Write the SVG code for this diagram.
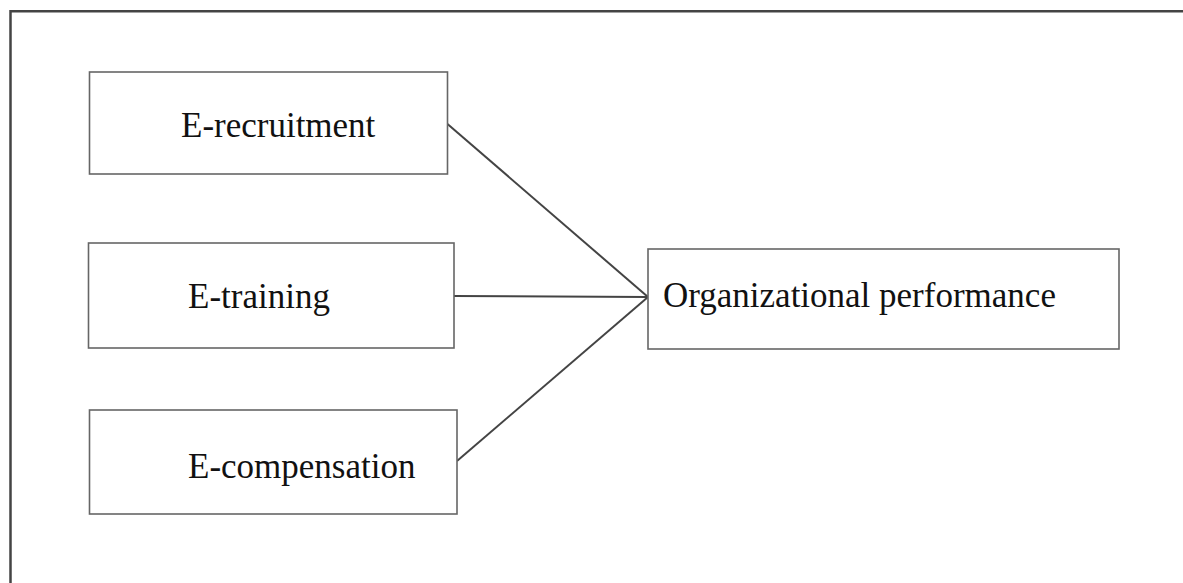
<svg xmlns="http://www.w3.org/2000/svg" width="1183" height="583" viewBox="0 0 1183 583">
  <style>
    .box { fill: #ffffff; stroke: #666666; stroke-width: 1.6; }
    .lbl { font-family: "Liberation Serif", "Times New Roman", serif; font-size: 35px; fill: #111111; }
    .conn { stroke: #444444; stroke-width: 2; fill: none; }
    .frame { stroke: #444444; stroke-width: 2.5; fill: none; }
  </style>
  <rect x="0" y="0" width="1183" height="583" fill="#ffffff"/>
  <path class="frame" d="M10.5,583 L10.5,11.2 L1183,11.2"/>
  <g id="connectors">
    <line class="conn" x1="447.5" y1="124" x2="648" y2="297"/>
    <line class="conn" x1="454" y1="296" x2="648" y2="297"/>
    <line class="conn" x1="457" y1="461" x2="648" y2="297"/>
  </g>
  <g id="node-erecruitment">
    <rect class="box" x="89.5" y="72" width="358" height="102"/>
    <text class="lbl" x="181" y="137">E-recruitment</text>
  </g>
  <g id="node-etraining">
    <rect class="box" x="88.5" y="243" width="365.5" height="105"/>
    <text class="lbl" x="188" y="308">E-training</text>
  </g>
  <g id="node-ecompensation">
    <rect class="box" x="89.5" y="410" width="367.5" height="104"/>
    <text class="lbl" x="188" y="478">E-compensation</text>
  </g>
  <g id="node-orgperformance">
    <rect class="box" x="648" y="249" width="471" height="100"/>
    <text class="lbl" x="663" y="307">Organizational performance</text>
  </g>
</svg>
